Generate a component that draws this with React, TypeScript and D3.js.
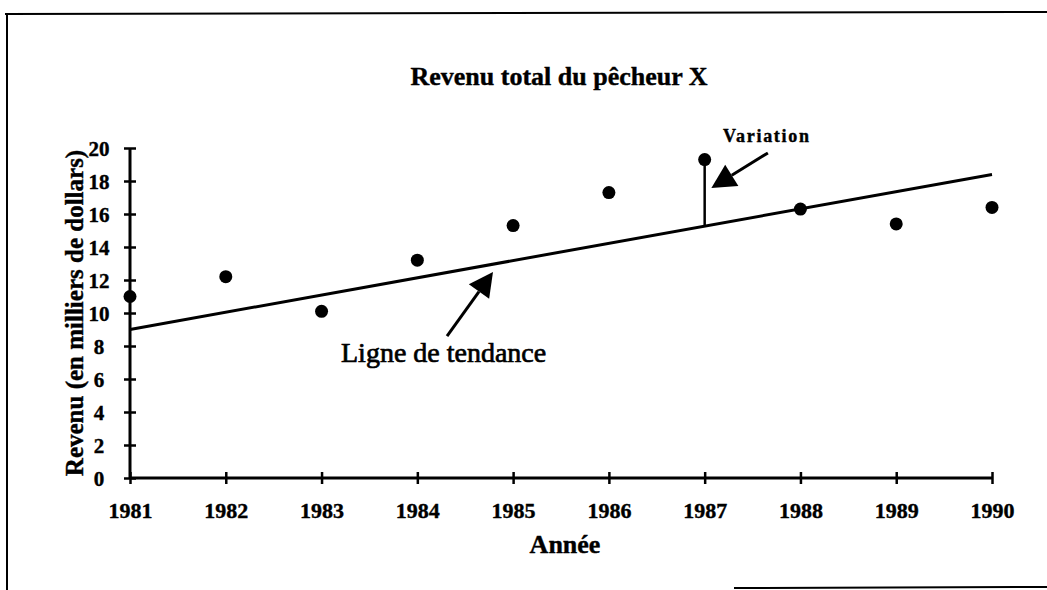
import React, { useEffect, useRef } from 'react';
import * as d3 from 'd3';

// valeurs
const years = [1981, 1982, 1983, 1984, 1985, 1986, 1987, 1988, 1989, 1990];
const revenue = [11, 12.2, 10.1, 13.2, 15.3, 17.3, 19.3, 16.3, 15.4, 16.4];
const yTicks = [0, 2, 4, 6, 8, 10, 12, 14, 16, 18, 20];
const trendStart = 9;
const trendEnd = 18.4;
const variationYear = 1987;

const W = 1047;
const H = 590;
const FONT = '"Liberation Serif", "Times New Roman", serif';

const App = () => {
  const ref = useRef<SVGSVGElement>(null);

  useEffect(() => {
    const svg = d3.select(ref.current);
    svg.selectAll('*').remove();

    const x = d3.scaleLinear().domain([1981, 1990]).range([130, 992]);
    const y = d3.scaleLinear().domain([0, 20]).range([478, 148]);

    const trend = (yr: number) =>
      trendStart + ((yr - 1981) / (1990 - 1981)) * (trendEnd - trendStart);

    // texte gras un peu épaissi, comme l'impression d'origine
    const bold = (sel: any, size: number) =>
      sel.style('font-family', FONT).style('font-weight', 'bold').style('font-size', `${size}px`)
        .attr('stroke', '#000').attr('stroke-width', 0.4);

    // cadre
    svg.append('path')
      .attr('d', `M5,14 L${W},12 M7,14 L7,${H} M734,588 L${W},587`)
      .attr('fill', 'none')
      .attr('stroke', '#000')
      .attr('stroke-width', 2);

    // titre
    bold(svg.append('text')
      .attr('x', 559).attr('y', 85)
      .attr('text-anchor', 'middle'), 26)
      .text('Revenu total du pêcheur X');

    // axe Y
    const yAxis = svg.append('g')
      .attr('transform', `translate(${x(1981)},0)`)
      .call(d3.axisLeft(y).tickValues(yTicks).tickSize(5).tickPadding(0));
    yAxis.select('.domain').attr('stroke-width', 3).attr('d', `M0,${y(0)}V${y(20)}`);
    yAxis.selectAll('.tick line').attr('x1', -6).attr('x2', 6).attr('stroke-width', 2.5);
    bold(yAxis.selectAll('.tick text')
      .attr('x', -31).attr('dy', '0.36em')
      .attr('text-anchor', 'middle'), 21);

    // axe X
    const xAxis = svg.append('g')
      .attr('transform', `translate(0,${y(0)})`)
      .call(d3.axisBottom(x).tickValues(years).tickFormat(d3.format('d')).tickSize(5));
    xAxis.select('.domain').attr('stroke-width', 3).attr('d', `M${x(1981)},0H${x(1990)}`);
    xAxis.selectAll('.tick line').attr('y1', -6).attr('y2', 6).attr('stroke-width', 2.5);
    bold(xAxis.selectAll('.tick text')
      .attr('y', 40).attr('dy', 0), 22);

    // titres des axes
    bold(svg.append('text')
      .attr('x', 565).attr('y', 553)
      .attr('text-anchor', 'middle'), 26)
      .text('Année');

    bold(svg.append('text')
      .attr('transform', `translate(83,${(y(0) + y(20)) / 2}) rotate(-90)`)
      .attr('text-anchor', 'middle'), 25)
      .text('Revenu (en milliers de dollars)');

    // ligne de tendance
    svg.append('line')
      .attr('x1', x(1981)).attr('y1', y(trendStart))
      .attr('x2', x(1990)).attr('y2', y(trendEnd))
      .attr('stroke', '#000').attr('stroke-width', 3);

    // variation 1987
    const vi = years.indexOf(variationYear);
    svg.append('line')
      .attr('x1', x(variationYear)).attr('y1', y(revenue[vi]))
      .attr('x2', x(variationYear)).attr('y2', y(trend(variationYear)))
      .attr('stroke', '#000').attr('stroke-width', 2.5);

    // points
    svg.append('g').selectAll('circle')
      .data(years)
      .join('circle')
      .attr('cx', (d) => x(d))
      .attr('cy', (d, i) => y(revenue[i]))
      .attr('r', 6.5)
      .attr('fill', '#000');

    // flèches d'annotation
    const arrow = (from: [number, number], to: [number, number]) => {
      const x0 = x(from[0]), y0 = y(from[1]);
      const x1 = x(to[0]), y1 = y(to[1]);
      const a = Math.atan2(y1 - y0, x1 - x0);
      const len = 24, half = 12.5;
      const bx = x1 - len * Math.cos(a), by = y1 - len * Math.sin(a);
      svg.append('line')
        .attr('x1', x0).attr('y1', y0).attr('x2', bx).attr('y2', by)
        .attr('stroke', '#000').attr('stroke-width', 3);
      svg.append('path')
        .attr('d', `M${x1},${y1}L${bx + half * Math.sin(a)},${by - half * Math.cos(a)}L${bx - half * Math.sin(a)},${by + half * Math.cos(a)}Z`)
        .attr('fill', '#000');
    };
    arrow([1984.31, 8.6], [1984.79, 12.48]);
    arrow([1987.66, 19.7], [1987.07, 17.58]);

    svg.append('text')
      .attr('x', 341).attr('y', 362)
      .attr('stroke', '#000').attr('stroke-width', 0.7)
      .style('font-family', FONT).style('font-size', '28px')
      .text('Ligne de tendance');

    bold(svg.append('text')
      .attr('x', 723).attr('y', 142)
      .attr('textLength', 86), 18)
      .text('Variation');
  }, []);

  return (
    <svg
      ref={ref}
      width={W}
      height={H}
      style={{ position: 'absolute', left: 0, top: 0, background: '#fff' }}
    />
  );
};

export default App;
